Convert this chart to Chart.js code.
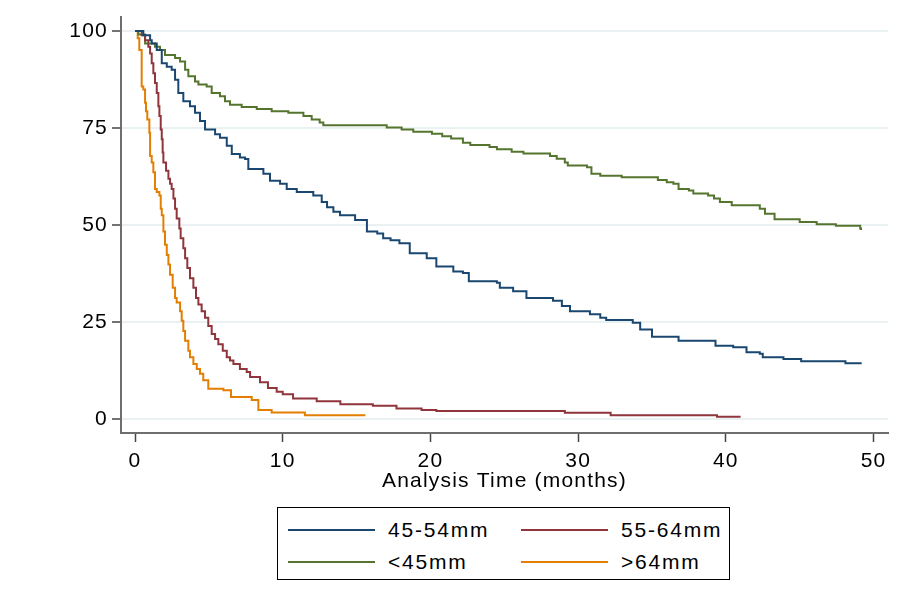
<!DOCTYPE html>
<html>
<head>
<meta charset="utf-8">
<script src="https://cdn.jsdelivr.net/npm/chart.js@4.4.1/dist/chart.umd.min.js"></script>
<style>
  body { margin: 0; background: #fff; }
  #wrap { position: relative; width: 897px; height: 607px; }
  #legend {
    position: absolute; left: 277px; top: 507px; width: 451px; height: 71px;
    border: 1px solid #000; background: #fff;
    font-family: "Liberation Sans", Arial, sans-serif; font-size: 21px; letter-spacing: 1.8px;
  }
  .item { position: absolute; height: 24px; line-height: 24px; white-space: nowrap; }
  .item .swatch { position: absolute; left: 0; top: 11px; width: 87px; height: 2px; }
  .item .txt { position: absolute; left: 100px; top: 0; color: #000; }
</style>
</head>
<body>
<div id="wrap">
  <canvas id="km" width="897" height="607"></canvas>
  <div id="legend"></div>
</div>
<script>
const FONT = '"Liberation Sans", Arial, sans-serif';

const seriesNames = ['45-54mm', '55-64mm', '<45mm', '>64mm'];
const seriesColors = ['#1a476f', '#90353b', '#55752f', '#e37e00'];

const xTicks = [0, 10, 20, 30, 40, 50];
const yTicks = [0, 25, 50, 75, 100];

// 45-54mm
const time4554 = [0, 0.56, 1.02, 1.13, 1.47, 1.81, 2.15, 2.48, 2.71, 2.93, 3.27, 3.72, 4.06, 4.4, 4.74, 5.42, 5.75, 6.21, 6.55, 7.1,
  7.45, 7.67, 8.69, 9.14, 9.82, 10.27, 10.95, 12.07, 12.64, 13.0, 13.43, 13.88, 14.9, 15.7, 16.4, 16.8, 17.3, 17.9, 18.6, 19.75,
  20.4, 21.55, 22.2, 22.6, 24.5, 24.7, 25.6, 26.5, 28.3, 28.9, 29.45, 30.8, 31.5, 31.9, 33.7, 34.2, 35.0, 36.8, 39.3, 40.5,
  41.4, 42.3, 42.5, 43.9, 45.1, 48.1, 49.2];
const surv4554 = [100, 98.9, 97.6, 96.8, 95.1, 91.7, 90.8, 90, 87.4, 84.0, 81.9, 80.6, 78.9, 76.8, 74.6, 73.4, 72.5, 70.4, 68.3, 67.4,
  67, 64.4, 63.2, 61.4, 60.6, 59.3, 58.5, 57.6, 55.9, 54.6, 53.4, 52.5, 51.3, 48.3, 47.8, 46.6, 46.1, 45.3, 42.7, 41.4,
  39.3, 38.0, 37.6, 35.5, 35.1, 33.8, 32.9, 31.2, 30.5, 29.1, 27.8, 27, 26.1, 25.5, 24.8, 23.1, 21.2, 20.2, 18.9, 18.5,
  17.2, 16.8, 15.9, 15.5, 14.9, 14.4, 14.4];

// 55-64mm
const time5564 = [0, 0.45, 0.68, 0.9, 1.02, 1.13, 1.24, 1.35, 1.47, 1.58, 1.65, 1.74, 1.81, 1.87, 1.92, 2.1, 2.26, 2.37, 2.48, 2.6,
  2.71, 2.82, 3.0, 3.09, 3.27, 3.39, 3.54, 3.72, 3.95, 4.13, 4.29, 4.51, 4.74, 4.96, 5.19, 5.42, 5.64, 5.94, 6.21, 6.43,
  6.66, 7.1, 7.56, 7.79, 8.46, 9.0, 9.59, 10.0, 10.7, 12.3, 13.9, 16.1, 17.7, 19.4, 20.4, 29.1, 32.2, 39.4, 41];
const surv5564 = [100, 98.9, 97.6, 95.9, 94.2, 91.7, 89.1, 86.6, 84.0, 80.6, 78.1, 74.6, 72.1, 68.7, 66.1, 64.0, 61.9, 60.6, 59.3, 56.8,
  54.2, 51.7, 49.1, 46.6, 44.0, 41.4, 38.9, 36.3, 33.8, 31.2, 29.5, 27.8, 26.1, 24.0, 21.9, 20.6, 19.3, 17.6, 15.9, 15.1,
  14.2, 12.9, 12.1, 10.8, 9.5, 8.0, 7.0, 6.4, 5.3, 4.6, 3.8, 3.4, 2.7, 2.3, 2.1, 1.6, 1.0, 0.6, 0.6];

// <45mm
const time45 = [0, 0.23, 0.68, 1.35, 1.69, 2.03, 2.71, 3.05, 3.39, 3.61, 4.06, 4.29, 4.85, 5.19, 5.75, 6.09, 6.43, 7.22, 8.24, 9.25,
  10.38, 11.4, 11.96, 12.5, 12.75, 17.04, 18.05, 18.84, 20.1, 20.8, 21.4, 22.2, 22.7, 24.0, 24.5, 25.5, 26.3, 28.1, 28.55, 29.1,
  29.3, 30.6, 30.9, 31.5, 32.95, 35.4, 36.0, 36.45, 36.8, 37.5, 37.8, 38.8, 39.2, 39.6, 40.4, 42.3, 42.65, 43.3, 45.0, 46.15,
  47.45, 49.1, 49.15];
const surv45 = [100, 99.1, 96.8, 95.9, 95.1, 93.8, 93.0, 92.1, 90.0, 88.3, 87.0, 86.2, 85.7, 84.0, 83.2, 81.9, 81.0, 80.4, 79.9, 79.3,
  78.9, 78.1, 77.2, 76.4, 75.7, 75.1, 74.6, 74.0, 73.5, 72.9, 72.3, 71.2, 70.6, 70.1, 69.5, 68.9, 68.4, 67.8, 67.1, 66.1,
  65.3, 64.9, 63.2, 62.7, 62.3, 61.6, 61, 60.6, 59.3, 58.9, 58.1, 57.6, 56.8, 55.9, 55.1, 54.2, 52.9, 51.5, 50.8, 50.2,
  49.8, 49.1, 48.7];

// >64mm
const time64 = [0, 0.18, 0.29, 0.45, 0.56, 0.68, 0.74, 0.83, 0.97, 1.02, 1.13, 1.24, 1.35, 1.47, 1.65, 1.74, 1.81, 1.92, 2.03, 2.15,
  2.26, 2.37, 2.55, 2.71, 2.82, 3.05, 3.16, 3.27, 3.39, 3.61, 3.72, 3.95, 4.18, 4.4, 4.62, 4.96, 5.98, 6.5, 7.9, 8.35,
  9.25, 11.5, 15.6];
const surv64 = [100, 98.1, 95.1, 85.7, 84.9, 81.5, 79.3, 77.2, 73.8, 67.8, 66.1, 63.6, 59.3, 58.5, 57.6, 54.2, 52.5, 48.3, 44.9, 42.3,
  39.8, 37.2, 33.8, 31.2, 30.0, 27.8, 25.3, 22.7, 20.2, 17.6, 15.9, 14.2, 12.9, 11.7, 10.0, 7.8, 7.4, 5.7, 4.9, 2.3,
  1.7, 1.0, 1.0];

const allTimes = [time4554, time5564, time45, time64];
const allSurv = [surv4554, surv5564, surv45, surv64];

const datasets = seriesNames.map((name, i) => ({
  label: name,
  data: allTimes[i].map((t, j) => ({ x: t, y: allSurv[i][j] })),
  borderColor: seriesColors[i],
  borderWidth: 2,
  pointRadius: 0,
  stepped: 'before',
  fill: false
}));

// stata text looks a bit wider than plain arial
const spacing = {
  id: 'spacing',
  beforeDraw(chart) { chart.ctx.letterSpacing = '1.2px'; }
};

new Chart(document.getElementById('km'), {
  type: 'line',
  data: { datasets },
  plugins: [spacing],
  options: {
    responsive: false,
    animation: false,
    layout: { padding: { left: 0, right: 9, top: 13, bottom: 113 } },
    plugins: { legend: { display: false }, tooltip: { enabled: false } },
    scales: {
      x: {
        type: 'linear',
        min: -0.95,
        max: 50.98,
        afterBuildTicks: s => { s.ticks = xTicks.map(v => ({ value: v })); },
        afterFit: s => { s.height = 61; },
        grid: { drawOnChartArea: false, tickLength: 9, tickColor: '#444', tickWidth: 1.5 },
        border: { color: '#6e6e6e', width: 2 },
        ticks: { color: '#000', font: { family: FONT, size: 21 }, padding: 7, maxRotation: 0 },
        title: { display: true, text: 'Analysis Time (months)', color: '#000', font: { family: FONT, size: 21 }, padding: 0 }
      },
      y: {
        type: 'linear',
        min: -3.6,
        max: 103.7,
        afterBuildTicks: s => { s.ticks = yTicks.map(v => ({ value: v })); },
        afterFit: s => { s.width = 121; },
        grid: { color: '#eaf1f3', lineWidth: 2, tickLength: 9, tickColor: '#444', tickWidth: 1.5 },
        border: { color: '#6e6e6e', width: 2 },
        ticks: { color: '#000', font: { family: FONT, size: 21 }, padding: 4 }
      }
    }
  }
});

// legend box below the plot, two columns
const legendOrder = [0, 1, 2, 3];
const legendCols = [10, 243];
const legendRows = [10, 42];
const legendEl = document.getElementById('legend');
legendOrder.forEach((idx, k) => {
  const item = document.createElement('div');
  item.className = 'item';
  item.style.left = legendCols[k % 2] + 'px';
  item.style.top = legendRows[Math.floor(k / 2)] + 'px';
  item.innerHTML = '<span class="swatch" style="background:' + seriesColors[idx] + '"></span><span class="txt"></span>';
  item.querySelector('.txt').textContent = seriesNames[idx];
  legendEl.appendChild(item);
});
</script>
</body>
</html>
